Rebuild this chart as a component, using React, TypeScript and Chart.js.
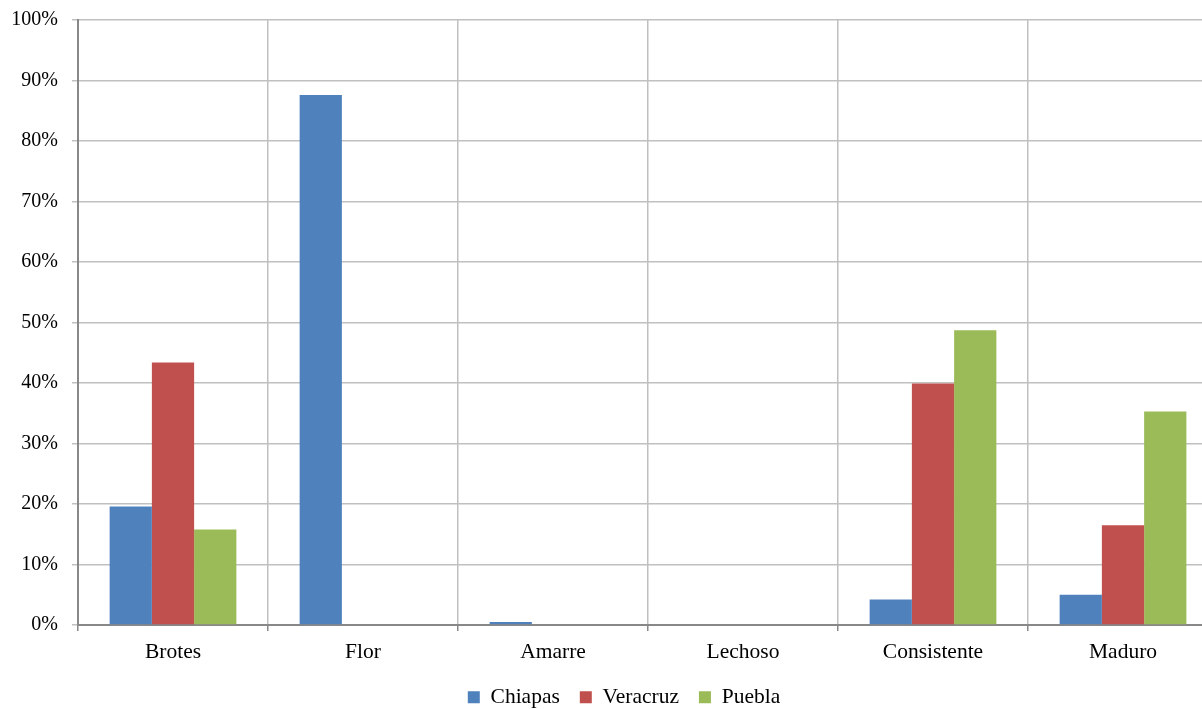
import React, { useEffect, useRef } from "react";
import { Chart, registerables } from "chart.js";

Chart.register(...registerables);

const categories = ["Brotes", "Flor", "Amarre", "Lechoso", "Consistente", "Maduro"];
const seriesNames = ["Chiapas", "Veracruz", "Puebla"];
const chiapas = [19.6, 87.6, 0.5, 0, 4.2, 5.0];
const veracruz = [43.4, 0, 0, 0, 39.9, 16.5];
const puebla = [15.8, 0, 0, 0, 48.7, 35.3];
const colors = ["#4F81BD", "#C0504D", "#9BBB59"];
const yMin = 0;
const yMax = 100;
const yStep = 10;

const FONT = "'Liberation Serif', 'Times New Roman', serif";

export default function App() {
  const ref = useRef<HTMLCanvasElement | null>(null);

  useEffect(() => {
    document.documentElement.style.overflow = "hidden";
    document.body.style.overflow = "hidden";
    document.body.style.margin = "0";
    const canvas = ref.current;
    if (!canvas) return;
    const values = [chiapas, veracruz, puebla];
    const chart = new Chart(canvas, {
      type: "bar",
      data: {
        labels: categories,
        datasets: seriesNames.map((name, i) => ({
          label: name,
          data: values[i],
          backgroundColor: colors[i],
          borderWidth: 0,
          categoryPercentage: 0.667,
          barPercentage: 1.0,
        })),
      },
      options: {
        animation: false,
        responsive: false,
        maintainAspectRatio: false,
        layout: { padding: { top: 20, left: 0, right: 0, bottom: 0 } },
        plugins: {
          legend: {
            position: "bottom",
            labels: {
              font: { family: FONT, size: 21.5 },
              color: "#000",
              boxWidth: 12,
              boxHeight: 12,
              padding: 20,
            },
          },
          tooltip: { enabled: false },
        },
        scales: {
          x: {
            grid: {
              display: true,
              offset: true,
              color: "#c0c0c0",
              lineWidth: 1.5,
              tickLength: 6,
              tickColor: "#888888",
            },
            border: { display: true, color: "#888888", width: 2 },
            ticks: {
              font: { family: FONT, size: 21.5 },
              color: "#000",
              padding: 8,
              maxRotation: 0,
            },
            afterFit: (scale: any) => {
              scale.height = 41.5;
            },
          },
          y: {
            min: yMin,
            max: yMax,
            grid: {
              color: "#c0c0c0",
              lineWidth: 1.5,
              tickLength: 6,
            },
            border: { display: true, color: "#888888", width: 2 },
            ticks: {
              stepSize: yStep,
              font: { family: FONT, size: 20, lineHeight: 0.3 },
              color: "#000",
              padding: 14,
              callback: (v: any) => v + "%",
            },
            afterFit: (scale: any) => {
              scale.width = 78;
            },
          },
          y2: {
            position: "right",
            display: true,
            grid: { display: false },
            border: { display: false },
            ticks: { display: false },
            afterFit: (scale: any) => {
              scale.width = 30;
            },
          },
        },
      },
    });
    return () => chart.destroy();
  }, []);

  return (
    <div style={{ position: "fixed", left: 0, top: 0, width: 1248, height: 718 }}>
      <canvas ref={ref} width={1248} height={718} style={{ width: 1248, height: 718, display: "block" }} />
    </div>
  );
}
